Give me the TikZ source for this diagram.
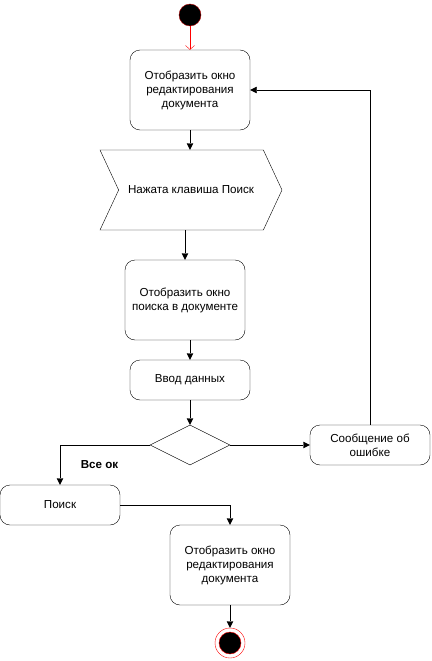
\documentclass[tikz,border=0pt]{standalone}
\usepackage{fontspec}
\setmainfont{Liberation Sans}
\usetikzlibrary{positioning,shapes.geometric,shapes.symbols,arrows.meta}

\begin{document}
\begin{tikzpicture}[x=1pt, y=-1pt, font=\fontsize{11.6}{14}\selectfont,
    act/.style={draw, rounded corners=10pt, align=center, minimum width=120pt, minimum height=80pt, inner sep=2pt},
    flow/.style={-{Triangle[length=6.5pt,width=6.5pt]}}]
    \useasboundingbox (0,0) rectangle (431,661);

    % Start and first window
    \node (start) [circle, fill=black, draw=red!70!black, minimum size=22pt, inner sep=0pt] at (190,15) {};
    \node (show1) [act] at (190,90) {Отобразить окно\\редактирования\\документа};

    % Key press signal
    \node (key) [draw, signal, signal to=east, signal from=west, signal pointer angle=130,
                 minimum width=182pt, minimum height=80pt, inner sep=2pt] at (191,190) {Нажата клавиша Поиск};

    % Search window and input
    \node (show2) [act] at (185,300) {Отобразить окно\\поиска в документе};
    \node (input) [act, minimum height=40pt] at (190,380) {Ввод данных};

    % Decision
    \node (check) [draw, diamond, aspect=2, minimum width=80pt, minimum height=40pt, inner sep=0pt] at (190,445) {};
    \node (error) [act, minimum height=40pt] at (370,445) {Сообщение об\\ошибке};
    \node (search) [act, minimum height=40pt] at (60,505) {Поиск};

    % Final window and end
    \node (show3) [act] at (230,565) {Отобразить окно\\редактирования\\документа};
    \node (stop) [circle, draw=red, minimum size=30pt, inner sep=0pt] at (230,643) {};
    \node (stopdot) [circle, fill=black, draw=red, minimum size=22pt, inner sep=0pt] at (stop) {};

    % Arrows
    \draw[red, -{Straight Barb[length=4pt,width=9pt]}] (start) -- (show1);
    \draw[flow] (show1) -- (show1.south |- key.north);
    \draw[flow] (key.south -| show2.north) -- (show2);
    \draw[flow] (show2.south -| input.north) -- (input);
    \draw[flow] (input) -- (check);
    \draw[flow] (check) -- (error);
    \draw[flow] (error) |- (show1);
    \draw[flow] (check.west) -| (search.north) node[pos=0.28, below=12pt, font=\fontsize{11.6}{14}\selectfont\bfseries] {Все ок};
    \draw[flow] (search.east) -| (show3.north);
    \draw[flow] (show3) -- (stop);
\end{tikzpicture}
\end{document}
